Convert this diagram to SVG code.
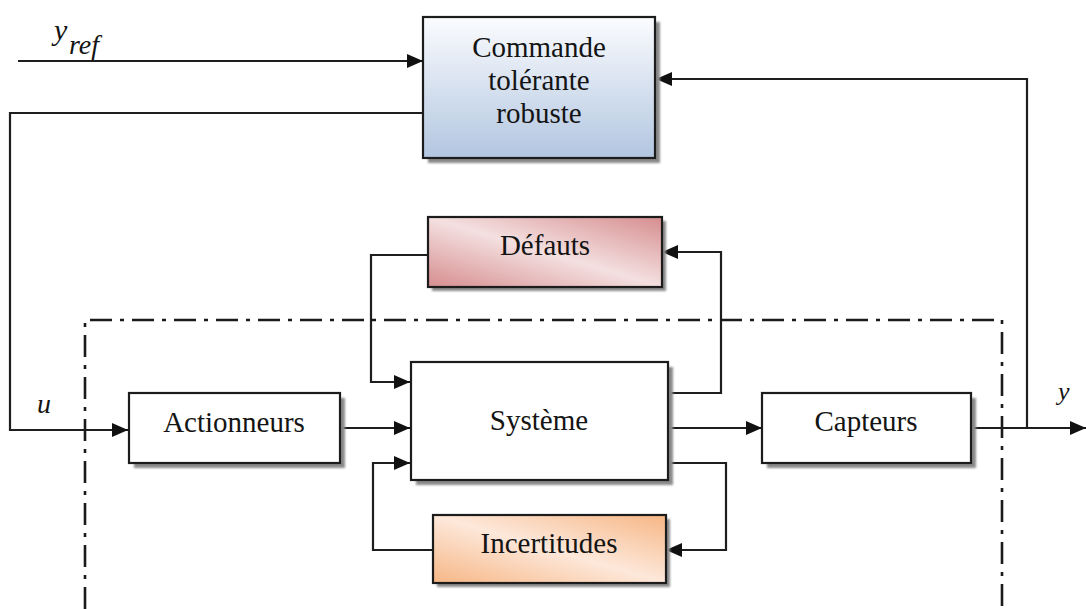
<svg xmlns="http://www.w3.org/2000/svg" width="1086" height="609" viewBox="0 0 1086 609">
  <style>
    .box { stroke: #1c1c1c; stroke-width: 2.2; }
    .shadow { fill: #8a8a8a; filter: url(#soft); }
    .lbl { font-family: 'Liberation Serif', 'DejaVu Serif', serif; font-size: 29px; fill: #141414; text-anchor: middle; }
    .sym { font-family: 'Liberation Serif', 'DejaVu Serif', serif; font-style: italic; fill: #141414; }
    .wire { fill: none; stroke: #1e1e1e; stroke-width: 2.2; }
    .frame { fill: none; stroke: #1a1a1a; stroke-width: 2.6; stroke-dasharray: 22 8 4 8; }
  </style>
  <defs>
    <filter id="soft" x="-5%" y="-5%" width="110%" height="120%">
      <feGaussianBlur stdDeviation="1.2"/>
    </filter>
    <marker id="arrow" markerUnits="userSpaceOnUse" markerWidth="16" markerHeight="14" refX="16" refY="7" orient="auto">
      <path d="M0,0 L16,7 L0,14 z" fill="#111"/>
    </marker>
    <linearGradient id="blueFill" x1="0" y1="0" x2="0" y2="1">
      <stop offset="0" stop-color="#fbfcfe"/>
      <stop offset="1" stop-color="#b2c6e0"/>
    </linearGradient>
    <linearGradient id="pinkFill" x1="0" y1="1" x2="1" y2="0">
      <stop offset="0" stop-color="#d68d8f"/>
      <stop offset="0.5" stop-color="#f4e0e0"/>
      <stop offset="1" stop-color="#d68d8f"/>
    </linearGradient>
    <linearGradient id="orangeFill" x1="0" y1="1" x2="1" y2="0">
      <stop offset="0" stop-color="#f6b685"/>
      <stop offset="0.5" stop-color="#fde8da"/>
      <stop offset="1" stop-color="#f6b685"/>
    </linearGradient>
  </defs>

  <rect width="1086" height="609" fill="#ffffff"/>

  <!-- dash-dot boundary of the physical process -->
  <path class="frame" d="M85,609 V320 H1002 V609"/>

  <!-- signal lines -->
  <g id="connectors">
    <path class="wire" d="M18,61 H423" marker-end="url(#arrow)"/>
    <path class="wire" d="M423,113 H10 V430 H128" marker-end="url(#arrow)"/>
    <path class="wire" d="M340,428 H410" marker-end="url(#arrow)"/>
    <path class="wire" d="M428,255 H371 V382 H410" marker-end="url(#arrow)"/>
    <path class="wire" d="M668,393 H721 V252 H662" marker-end="url(#arrow)"/>
    <path class="wire" d="M668,428 H762" marker-end="url(#arrow)"/>
    <path class="wire" d="M971,428 H1086" marker-end="url(#arrow)"/>
    <path class="wire" d="M1027,428 V79 H656" marker-end="url(#arrow)"/>
    <path class="wire" d="M668,463 H726 V550 H666" marker-end="url(#arrow)"/>
    <path class="wire" d="M433,550 H373 V463 H410" marker-end="url(#arrow)"/>
  </g>

  <!-- signal names -->
  <g id="signals">
    <text class="sym" x="54" y="40" font-size="30">y</text>
    <text class="sym" x="69" y="54" font-size="28">ref</text>
    <text class="sym" x="37" y="413" font-size="28">u</text>
    <text class="sym" x="1058" y="400" font-size="26">y</text>
  </g>

  <g id="commande">
    <rect class="shadow" x="428" y="22" width="232" height="141"/>
    <rect class="box" x="423" y="17" width="232" height="141" fill="url(#blueFill)" stroke-width="2.8"/>
    <text class="lbl" x="539" y="57">Commande</text>
    <text class="lbl" x="539" y="90">tolérante</text>
    <text class="lbl" x="539" y="123">robuste</text>
  </g>

  <g id="defauts">
    <rect class="shadow" x="432" y="221" width="234" height="70"/>
    <rect class="box" x="428" y="217" width="234" height="70" fill="url(#pinkFill)" stroke-width="2.8"/>
    <text class="lbl" x="545" y="255">Défauts</text>
  </g>

  <g id="actionneurs">
    <rect class="shadow" x="134" y="398" width="211" height="70"/>
    <rect class="box" x="129" y="393" width="211" height="70" fill="#ffffff"/>
    <text class="lbl" x="234" y="432">Actionneurs</text>
  </g>

  <g id="systeme">
    <rect class="shadow" x="416" y="367" width="257" height="118"/>
    <rect class="box" x="411" y="362" width="257" height="118" fill="#ffffff"/>
    <text class="lbl" x="539" y="430">Système</text>
  </g>

  <g id="capteurs">
    <rect class="shadow" x="767" y="398" width="209" height="70"/>
    <rect class="box" x="762" y="393" width="209" height="70" fill="#ffffff"/>
    <text class="lbl" x="866" y="431">Capteurs</text>
  </g>

  <g id="incertitudes">
    <rect class="shadow" x="437" y="519" width="233" height="68"/>
    <rect class="box" x="433" y="515" width="233" height="68" fill="url(#orangeFill)" stroke-width="2.6"/>
    <text class="lbl" x="549" y="553">Incertitudes</text>
  </g>
</svg>
